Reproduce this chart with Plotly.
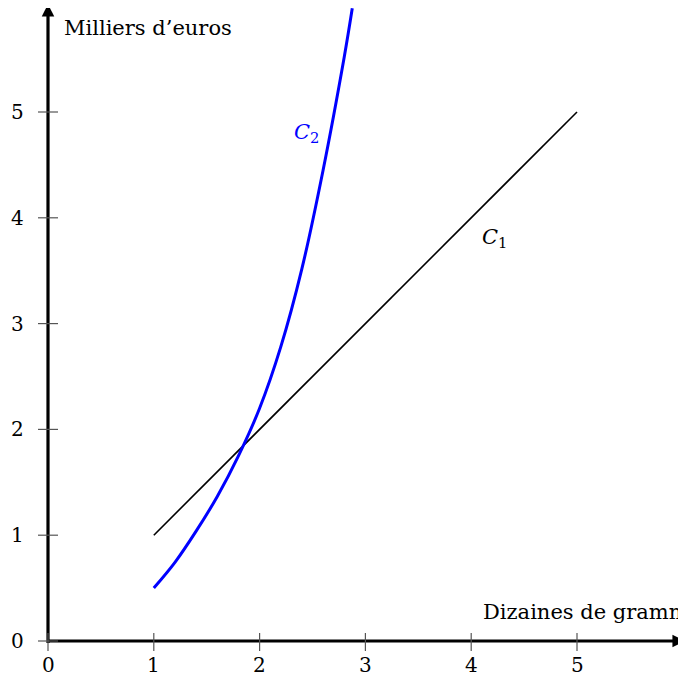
import plotly.graph_objects as go

# Data
c1_x = [1, 5]
c1_y = [1, 5]
c2_x = [1.0, 1.2, 1.4, 1.6, 1.8, 2.0, 2.2, 2.4, 2.6, 2.8, 2.876]
c2_y = [0.5, 0.743, 1.038, 1.366, 1.75, 2.20, 2.78, 3.52, 4.45, 5.52, 5.98]
x_ticks = [0, 1, 2, 3, 4, 5]
y_ticks = [0, 1, 2, 3, 4, 5]

# page has an 8px body margin; figure is sized to fill the remaining window
OFF = 8
W, H = 686 - OFF, 685 - OFF
px_per_unit = 105.8
x0_px, y0_px = 48 - OFF, 641 - OFF
x_range = [-x0_px / px_per_unit, (W - x0_px) / px_per_unit]
y_range = [-(H - y0_px) / px_per_unit, y0_px / px_per_unit]
u = 1 / px_per_unit  # one pixel in data units

FONT = "DejaVu Serif"

fig = go.Figure()
fig.add_trace(go.Scatter(x=c1_x, y=c1_y, mode="lines",
                         line=dict(color="black", width=1.6), hoverinfo="skip"))
fig.add_trace(go.Scatter(x=c2_x, y=c2_y, mode="lines",
                         line=dict(color="#0000ff", width=3, shape="spline", smoothing=1.0),
                         hoverinfo="skip"))

shapes = []
# axes
shapes.append(dict(type="line", x0=0, y0=0, x1=5.99, y1=0, xref="x", yref="y",
                   line=dict(color="black", width=3.2)))
shapes.append(dict(type="line", x0=0, y0=-2 * u, x1=0, y1=5.95, xref="x", yref="y",
                   line=dict(color="black", width=3.2)))
# ticks
for t in x_ticks:
    shapes.append(dict(type="line", x0=t, x1=t, y0=-10 * u, y1=8 * u, xref="x", yref="y",
                       line=dict(color="#555555", width=1.2)))
for t in y_ticks:
    shapes.append(dict(type="line", x0=-10 * u, x1=10 * u, y0=t, y1=t, xref="x", yref="y",
                       line=dict(color="#555555", width=1.2)))

annotations = []
# arrow heads
annotations.append(dict(x=6.02, y=0, ax=5.9, ay=0, xref="x", yref="y", axref="x", ayref="y",
                        showarrow=True, arrowhead=2, arrowsize=1, arrowwidth=2.5,
                        arrowcolor="black", text=""))
annotations.append(dict(x=0, y=6.02, ax=0, ay=5.9, xref="x", yref="y", axref="x", ayref="y",
                        showarrow=True, arrowhead=2, arrowsize=1, arrowwidth=2.5,
                        arrowcolor="black", text=""))
for t in x_ticks:
    annotations.append(dict(x=t, y=-24 * u, xref="x", yref="y", text=str(t), showarrow=False,
                            font=dict(family=FONT, size=20, color="black")))
for t in y_ticks:
    annotations.append(dict(x=-31 * u, y=t, xref="x", yref="y", text=str(t), showarrow=False,
                            font=dict(family=FONT, size=20, color="black")))
annotations.append(dict(x=14 * u, y=(641 - 28) * u, xref="x", yref="y", text="Milliers d’euros",
                        showarrow=False, xanchor="left",
                        font=dict(family=FONT, size=21, color="black")))
annotations.append(dict(x=(481 - 48) * u, y=29 * u, xref="x", yref="y", text="Dizaines de grammes",
                        showarrow=False, xanchor="left",
                        font=dict(family=FONT, size=21, color="black")))
annotations.append(dict(x=(494 - 48) * u, y=(641 - 238) * u, xref="x", yref="y",
                        text="<i>C</i><sub>1</sub>", showarrow=False,
                        font=dict(family=FONT, size=21, color="black")))
annotations.append(dict(x=(306 - 48) * u, y=(641 - 133) * u, xref="x", yref="y",
                        text="<i>C</i><sub>2</sub>", showarrow=False,
                        font=dict(family=FONT, size=21, color="#0000ff")))

fig.update_layout(
    width=W, height=H,
    margin=dict(l=0, r=0, t=0, b=0),
    paper_bgcolor="white", plot_bgcolor="white",
    showlegend=False,
    xaxis=dict(range=x_range, visible=False, fixedrange=True),
    yaxis=dict(range=y_range, visible=False, fixedrange=True),
    shapes=shapes, annotations=annotations,
)

fig.write_html("out.html")
